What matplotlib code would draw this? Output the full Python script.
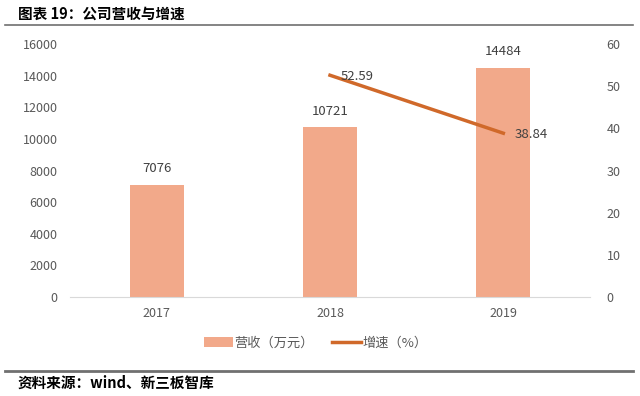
import matplotlib
matplotlib.use("Agg")
import matplotlib.pyplot as plt
from matplotlib.lines import Line2D
from matplotlib.patches import Patch

plt.rcParams['font.family'] = ['Noto Sans CJK SC', 'DejaVu Sans']

years = ["2017", "2018", "2019"]
revenue = [7076, 10721, 14484]
growth_years = ["2018", "2019"]
growth = [52.59, 38.84]
left_ticks = [0, 2000, 4000, 6000, 8000, 10000, 12000, 14000, 16000]
right_ticks = [0, 10, 20, 30, 40, 50, 60]

bar_color = "#F2A98A"
line_color = "#D0692A"
tick_color = "#595959"

fig = plt.figure(figsize=(6.4, 3.96), dpi=100)
ax = fig.add_axes([70/640, 1-297/396, 520/640, (297-44)/396])
x = list(range(len(years)))
ax.bar(x, revenue, width=0.31, color=bar_color, zorder=2)
ax.set_xlim(-0.5, 2.5)
ax.set_ylim(0, 16000)
ax.set_yticks(left_ticks)
ax.set_xticks(x)
ax.set_xticklabels(years)
for s in ["top", "right", "left"]:
    ax.spines[s].set_visible(False)
ax.spines["bottom"].set_color("#D9D9D9")
ax.tick_params(axis="both", length=0, colors=tick_color, labelsize=9)
ax.tick_params(axis="x", pad=7)
ax.tick_params(axis="y", pad=9)
for xi, v in zip(x, revenue):
    ax.annotate(str(v), (xi, v), xytext=(0, 7), textcoords="offset points",
                ha="center", va="bottom", fontsize=9.5, color="#404040")

ax2 = ax.twinx()
gx = [years.index(y) for y in growth_years]
ax2.plot(gx, growth, color=line_color, lw=2.5, zorder=3)
ax2.set_ylim(0, 60)
ax2.set_yticks(right_ticks)
for s in ["top", "right", "left", "bottom"]:
    ax2.spines[s].set_visible(False)
ax2.tick_params(axis="y", length=0, colors=tick_color, labelsize=9, pad=12)
for xi, v in zip(gx, growth):
    ax2.annotate(f"{v:.2f}", (xi, v), xytext=(8, -1), textcoords="offset points",
                 ha="left", va="center", fontsize=9.5, color="#404040")

handles = [Patch(facecolor=bar_color, edgecolor="none"),
           Line2D([0], [0], color=line_color, lw=2.5)]
fig.legend(handles, ["营收（万元）", "增速（%）"], loc="center",
           bbox_to_anchor=(316/640, 1-343/396), ncol=2, frameon=False,
           fontsize=9.5, labelcolor=tick_color, handlelength=2.2,
           handletextpad=0.1, columnspacing=1.4)

fig.text(18/640, 1-14/396, "图表 19：公司营收与增速", fontsize=10.5,
         fontweight="bold", va="center", ha="left", color="#000000")
fig.add_artist(Line2D([5/640, 633/640], [1-25/396, 1-25/396], color="#707070", lw=1.2))
fig.add_artist(Line2D([5/640, 633/640], [1-370.5/396, 1-370.5/396], color="#707070", lw=2))
fig.text(18/640, 1-383/396, "资料来源：wind、新三板智库", fontsize=10.5,
         fontweight="bold", va="center", ha="left", color="#000000")

fig.savefig("out.png", dpi=100)
